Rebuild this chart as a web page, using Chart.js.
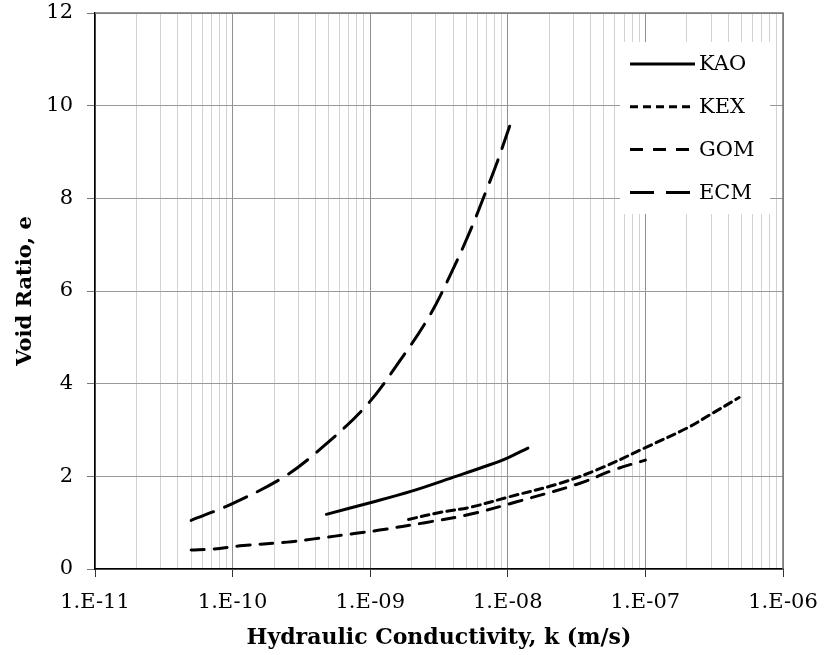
<!DOCTYPE html>
<html>
<head>
<meta charset="utf-8">
<script src="https://cdn.jsdelivr.net/npm/chart.js@4"></script>
<style>
  html, body { margin: 0; padding: 0; background: #fff; }
  canvas { display: block; }
</style>
</head>
<body>
<canvas id="chart" width="836" height="655"></canvas>
<script>
// Void ratio vs hydraulic conductivity
const KAO_K = [4.8e-10, 1.0e-9, 2.0e-9, 4.2e-9, 7.4e-9, 1.0e-8, 1.4e-8];
const KAO_E = [1.18, 1.43, 1.68, 2.0, 2.25, 2.40, 2.61];

const KEX_K = [1.9e-9, 3.2e-9, 5.3e-9, 1.0e-8, 2.4e-8, 4.7e-8, 1.0e-7, 2.0e-7, 2.95e-7, 4.8e-7];
const KEX_E = [1.07, 1.22, 1.33, 1.55, 1.85, 2.17, 2.62, 3.04, 3.33, 3.70];

const GOM_K = [5.0e-11, 7.2e-11, 1.13e-10, 2.5e-10, 3.9e-10, 7.9e-10, 1.17e-9, 2.5e-9, 5.3e-9, 1.16e-8, 3.35e-8, 5.9e-8, 1.0e-7];
const GOM_E = [0.41, 0.43, 0.50, 0.58, 0.65, 0.77, 0.84, 1.0, 1.18, 1.45, 1.85, 2.14, 2.35];

const ECM_K = [5.0e-11, 9.8e-11, 2.4e-10, 4.5e-10, 9.4e-10, 1.64e-9, 2.72e-9, 3.8e-9, 5.3e-9, 7.0e-9, 8.3e-9, 1.1e-8];
const ECM_E = [1.05, 1.40, 2.0, 2.63, 3.53, 4.49, 5.48, 6.33, 7.28, 8.18, 8.75, 9.8];

const X_DECADES = [-11, -10, -9, -8, -7, -6];
const Y_TICKS = [0, 2, 4, 6, 8, 10, 12];

const FONT = "'DejaVu Serif', 'Liberation Serif', serif";

const pts = (ks, es) => ks.map((k, i) => ({ x: k, y: es[i] }));
const isMajor = (v) => Math.abs(Math.log10(v) - Math.round(Math.log10(v))) < 1e-6;

// every 1..9 multiple inside the decades, plus the final 1.E-06
const X_GRID = [];
X_DECADES.forEach((d, i) => {
  const top = i === X_DECADES.length - 1 ? 1 : 9;
  for (let m = 1; m <= top; m++) X_GRID.push(m * Math.pow(10, d));
});

function series(label, ks, es, dash) {
  return {
    label,
    data: pts(ks, es),
    borderColor: '#000',
    borderWidth: 3,
    borderDash: dash,
    borderCapStyle: 'round',
    pointRadius: 0,
    fill: false,
    tension: 0.35,
  };
}

// ── Legend box inside the plot + frame on top/right ──
const overlay = {
  id: 'overlay',
  beforeDatasetsDraw(chart) {
    const { ctx, chartArea: a } = chart;
    ctx.save();
    ctx.strokeStyle = '#777';
    ctx.lineWidth = 1.5;
    ctx.beginPath();
    ctx.moveTo(a.left, a.top);
    ctx.lineTo(a.right, a.top);
    ctx.lineTo(a.right, a.bottom);
    ctx.stroke();
    ctx.restore();
  },
  afterDatasetsDraw(chart) {
    const { ctx } = chart;
    ctx.save();
    ctx.fillStyle = '#fff';
    ctx.fillRect(620, 42, 150, 172);
    chart.data.datasets.forEach((ds, i) => {
      const y = 64 + i * 42.8;
      ctx.strokeStyle = '#000';
      ctx.lineWidth = 3;
      ctx.setLineDash(ds.borderDash || []);
      ctx.beginPath();
      ctx.moveTo(630, y);
      ctx.lineTo(695, y);
      ctx.stroke();
      ctx.setLineDash([]);
      ctx.fillStyle = '#000';
      ctx.font = `21px ${FONT}`;
      ctx.textBaseline = 'middle';
      ctx.fillText(ds.label, 699, y + 1);
    });
    ctx.restore();
  },
};

new Chart(document.getElementById('chart'), {
  type: 'line',
  data: {
    datasets: [
      series('KAO', KAO_K, KAO_E, []),
      series('KEX', KEX_K, KEX_E, [8, 5]),
      series('GOM', GOM_K, GOM_E, [13, 10]),
      series('ECM', ECM_K, ECM_E, [24, 12]),
    ],
  },
  options: {
    responsive: false,
    animation: false,
    layout: { padding: { top: 13, right: 53, left: 0, bottom: 0 } },
    plugins: { legend: { display: false }, tooltip: { enabled: false } },
    scales: {
      x: {
        type: 'logarithmic',
        min: 1e-11,
        max: 1e-6,
        afterBuildTicks: (axis) => { axis.ticks = X_GRID.map(v => ({ value: v })); },
        afterFit: (axis) => { axis.height = 86; axis.paddingLeft = 0; axis.paddingRight = 0; },
        ticks: {
          autoSkip: false,
          maxRotation: 0,
          color: '#000',
          padding: 13,
          font: { family: FONT, size: 21 },
          callback: (v) => isMajor(v) ? `1.E-${String(-Math.round(Math.log10(v))).padStart(2, '0')}` : '',
        },
        grid: {
          color: (c) => isMajor(c.tick.value) ? '#8f8f8f' : '#d2d2d2',
          tickColor: (c) => isMajor(c.tick.value) ? '#333' : 'rgba(0,0,0,0)',
          tickLength: 8,
          lineWidth: 1,
        },
        border: { color: '#000', width: 1.5 },
        title: {
          display: true,
          text: 'Hydraulic Conductivity, k (m/s)',
          color: '#000',
          font: { family: FONT, size: 22, weight: 'bold' },
          padding: { top: 0 },
        },
      },
      y: {
        min: 0,
        max: 12,
        afterBuildTicks: (axis) => { axis.ticks = Y_TICKS.map(v => ({ value: v })); },
        afterFit: (axis) => { axis.width = 95; axis.paddingTop = 0; axis.paddingBottom = 0; },
        ticks: {
          color: '#000',
          padding: 14,
          font: { family: FONT, size: 21 },
        },
        grid: { color: '#999', tickColor: '#777', tickLength: 8, lineWidth: 1 },
        border: { color: '#000', width: 1.5 },
        title: {
          display: true,
          text: 'Void Ratio, e',
          color: '#000',
          font: { family: FONT, size: 21, weight: 'bold' },
          padding: { top: 13, bottom: 0 },
        },
      },
    },
  },
  plugins: [overlay],
});
</script>
</body>
</html>
